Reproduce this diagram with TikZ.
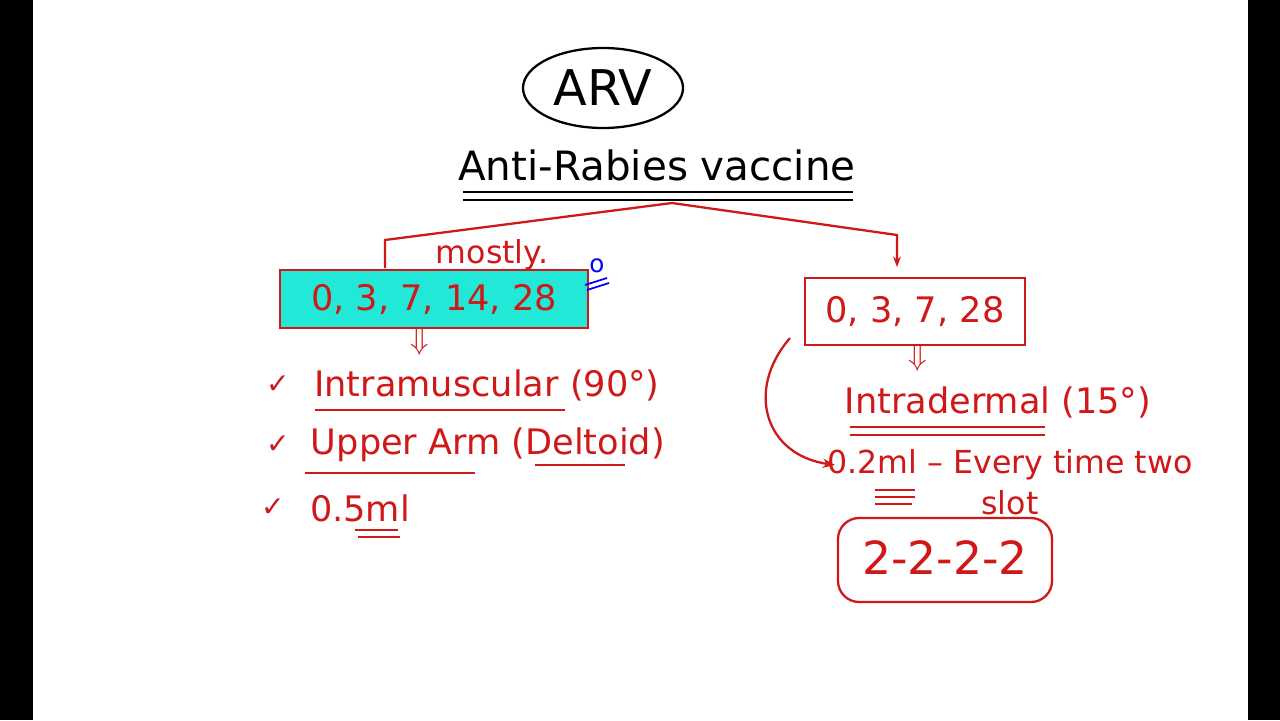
\documentclass[tikz,border=0pt]{standalone}
\usepackage{fontspec}
\setmainfont{DejaVu Sans}
\usetikzlibrary{arrows.meta}
\definecolor{rd}{HTML}{D01818}
\definecolor{cy}{HTML}{22E8D8}
\tikzset{x=0.02cm,y=-0.02cm,
 red/.style={draw=rd,line width=1.3pt},
 rt/.style={text=rd,font=\fontsize{20}{22}\selectfont},
 ul/.style={draw=rd,line width=1.1pt},
 ck/.style={text=rd,font=\fontsize{16}{16}\selectfont}}
\begin{document}
\begin{tikzpicture}
\useasboundingbox (0,0) rectangle (1280,720);
\fill[black] (0,0) rectangle (33,720);
\fill[black] (1248,0) rectangle (1280,720);
\draw[line width=1.3pt] (603,88) ellipse [x radius=80,y radius=40];
\node[font=\fontsize{28}{30}\selectfont] (arv) at (603,88) {ARV};
\node[font=\fontsize{23}{26}\selectfont] (title) at (657,165) {Anti-Rabies vaccine};
\draw[line width=1.3pt] (463,192) -- (853,192);
\draw[line width=1.3pt] (463,200) -- (853,200);
\coordinate (top) at (672,203);
\draw[red,fill=cy] (280,270) rectangle (588,328);
\node[rt] (lbt) at (434,299) {0, 3, 7, 14, 28};
\draw[red] (805,278) rectangle (1025,345);
\node[rt] (rbt) at (915,311) {0, 3, 7, 28};
\draw[red] (top) -- (385,240) -- (385,268);
\draw[red,-{Stealth[length=6pt]}] (top) -- (897,235) -- (897,267);
\node[rt,font=\fontsize{18}{20}\selectfont] (mostly) at (492,255) {mostly.};
\node[text=blue,font=\fontsize{14}{14}\selectfont] (o) at (597,266) {o};
\draw[blue,line width=1pt] (585,285)--(607,278) (587,290)--(609,283);
\node[rt,font=\fontsize{16}{16}\selectfont] (a1) at (420,342) {$\Downarrow$};
\node[rt,font=\fontsize{16}{16}\selectfont] (a2) at (918,358) {$\Downarrow$};
\node[ck] at (278,385) {\char"2713};
\node[ck] at (278,445) {\char"2713};
\node[ck] at (273,508) {\char"2713};
\node[rt] (im) at (487,385) {Intramuscular (90°)};
\draw[ul] (315,410) -- (565,410);
\node[rt] (ua) at (488,445) {Upper Arm (Deltoid)};
\draw[ul] (305,473) -- (475,473);
\draw[ul] (535,465) -- (625,465);
\node[rt] (ml) at (360,508) {0.5ml};
\draw[ul] (355,530) -- (398,530) (358,537) -- (400,537);
\node[rt] (id) at (998,402) {Intradermal (15°)};
\draw[ul] (850,427) -- (1045,427) (850,435) -- (1045,435);
\node[rt,font=\fontsize{18}{20}\selectfont] (ev) at (1010,465) {0.2ml – Every time two};
\draw[ul] (875,490) -- (915,490) (875,497) -- (915,497) (875,504) -- (912,504);
\node[rt,font=\fontsize{18}{20}\selectfont] (slot) at (1010,503) {slot};
\coordinate (cs) at (790,338);
\draw[red,-{Stealth[length=7pt]}] (cs) .. controls (745,390) and (765,455) .. (835,465);
\draw[red,rounded corners=12pt] (838,518) rectangle (1052,602);
\node[rt,font=\fontsize{26}{28}\selectfont] (dd) at (945,558) {2-2-2-2};
\end{tikzpicture}
\end{document}
